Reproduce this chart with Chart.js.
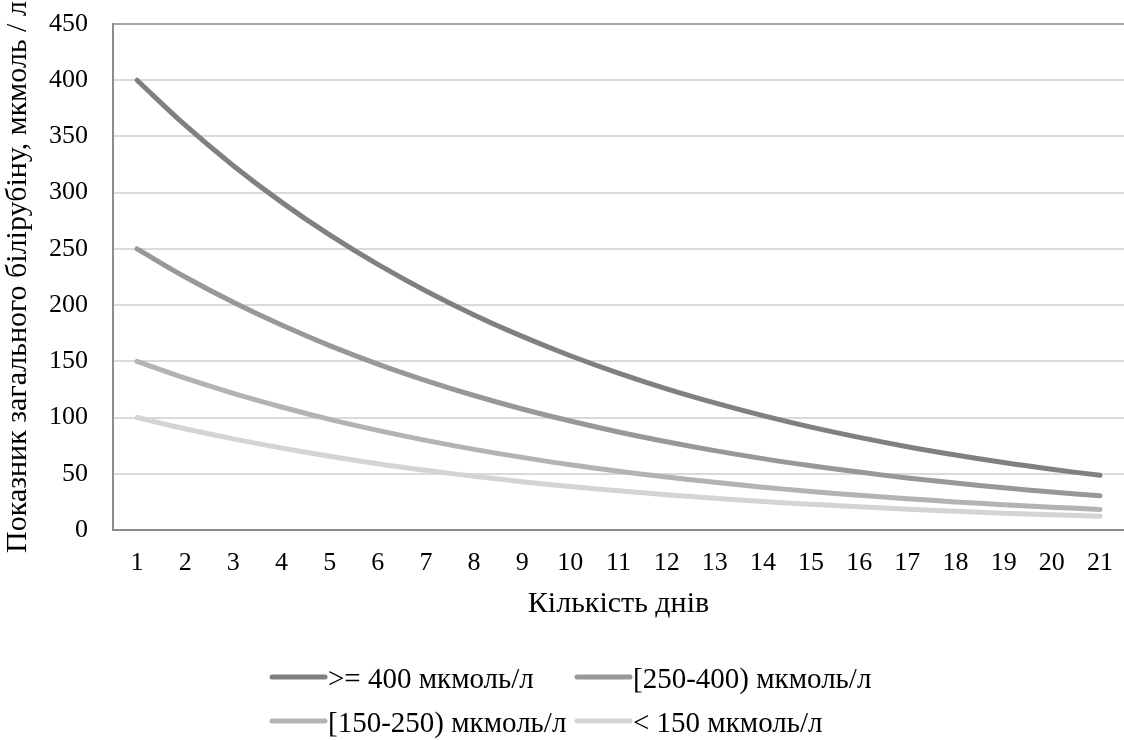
<!DOCTYPE html>
<html lang="uk">
<head>
  <meta charset="utf-8">
  <title>Білірубін</title>
  <style>
    html, body { margin: 0; padding: 0; background: #fff; }
    #wrap { width: 1124px; height: 740px; }
  </style>
</head>
<body>
  <div id="wrap"><canvas id="myChart" width="1124" height="740"></canvas></div>

  <script src="https://cdn.jsdelivr.net/npm/chart.js@4"></script>
  <script>
    // days of observation
    var days = ['1', '2', '3', '4', '5', '6', '7', '8', '9', '10', '11', '12', '13', '14', '15', '16', '17', '18', '19', '20', '21'];

    var seriesNames = ['>= 400 мкмоль/л', '[250-400) мкмоль/л', '[150-250) мкмоль/л', '< 150 мкмоль/л'];

    // total bilirubin per day, one array per starting group
    var group400 = [400, 360, 324, 291.6, 262.4, 236.2, 212.6, 191.3, 172.2, 155.0, 139.5, 125.5, 113.0, 101.7, 91.5, 82.4, 74.1, 66.7, 60.0, 54.0, 48.6];
    var group250 = [250, 225, 202.5, 182.3, 164.0, 147.6, 132.9, 119.6, 107.6, 96.9, 87.2, 78.5, 70.6, 63.5, 57.2, 51.5, 46.3, 41.7, 37.5, 33.8, 30.4];
    var group150 = [150, 135, 121.5, 109.4, 98.4, 88.6, 79.7, 71.7, 64.6, 58.1, 52.3, 47.1, 42.4, 38.1, 34.3, 30.9, 27.8, 25.0, 22.5, 20.3, 18.2];
    var group100 = [100, 90, 81, 72.9, 65.6, 59.0, 53.1, 47.8, 43.0, 38.7, 34.9, 31.4, 28.2, 25.4, 22.9, 20.6, 18.5, 16.7, 15.0, 13.5, 12.2];

    var colors = ['#808080', '#989898', '#b3b3b3', '#d4d4d4'];
    var serif = '"Liberation Serif", "Times New Roman", serif';

    Chart.defaults.font.family = serif;
    Chart.defaults.color = '#000';

    function makeSet(i, values) {
      return {
        label: seriesNames[i],
        data: values,
        borderColor: colors[i],
        backgroundColor: colors[i],
        borderWidth: 5,
        borderCapStyle: 'round',
        borderJoinStyle: 'round',
        pointRadius: 0,
        tension: 0.4,
        fill: false
      };
    }

    // legend in two rows, two columns, under the x axis title
    var gridLegend = {
      id: 'gridLegend',
      afterDraw: function(chart) {
        var ctx = chart.ctx;
        var cols = [270, 575];
        var rows = [680, 724];
        ctx.save();
        ctx.font = '29px ' + serif;
        ctx.textBaseline = 'middle';
        ctx.textAlign = 'left';
        chart.data.datasets.forEach(function(ds, i) {
          var x = cols[i % 2];
          var y = rows[Math.floor(i / 2)];
          ctx.strokeStyle = ds.borderColor;
          ctx.lineWidth = 5;
          ctx.lineCap = 'round';
          ctx.beginPath();
          ctx.moveTo(x + 2, y - 3);
          ctx.lineTo(x + 55, y - 3);
          ctx.stroke();
          ctx.fillStyle = '#000';
          ctx.fillText(ds.label, x + 58, y);
        });
        ctx.restore();
      }
    };

    var ctx = document.getElementById('myChart').getContext('2d');
    var chart = new Chart(ctx, {
      type: 'line',
      data: {
        labels: days,
        datasets: [makeSet(0, group400), makeSet(1, group250), makeSet(2, group150), makeSet(3, group100)]
      },
      plugins: [gridLegend],
      options: {
        responsive: false,
        animation: false,
        layout: { padding: { top: 24, right: 0, left: 0, bottom: 118 } },
        plugins: {
          legend: { display: false },
          tooltip: { enabled: false }
        },
        scales: {
          x: {
            offset: true,
            grid: { display: false, drawTicks: false },
            border: { display: true, color: '#8c8c8c', width: 2 },
            ticks: { font: { size: 26 }, padding: 18, maxRotation: 0, autoSkip: false },
            title: { display: true, text: 'Кількість днів', font: { size: 30 }, padding: { top: 0, bottom: 0 } },
            afterFit: function(s) {
              s.height = 92;
              s.paddingLeft = 0;
              s.paddingRight = 0;
            }
          },
          y: {
            min: 0,
            max: 450,
            ticks: { stepSize: 50, font: { size: 26 }, padding: 25 },
            grid: {
              drawTicks: false,
              lineWidth: 2,
              color: function(c) { return c.tick && c.tick.value === 450 ? '#a6a6a6' : '#dadada'; }
            },
            border: { display: true, color: '#8c8c8c', width: 2 },
            title: { display: true, text: 'Показник загального білірубіну, мкмоль / л', font: { size: 30 }, padding: { top: 0, bottom: 0 } },
            afterFit: function(s) {
              s.width = 113;
              s.paddingTop = 0;
              s.paddingBottom = 0;
            }
          }
        }
      }
    });
  </script>
</body>
</html>
